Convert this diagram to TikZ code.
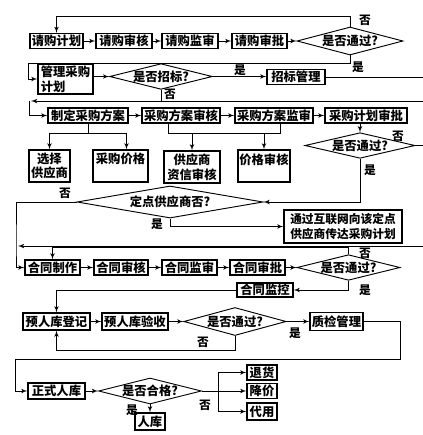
\documentclass[tikz,border=0pt]{standalone}
\usepackage{fontspec}
\newfontfamily\cjk{Noto Sans CJK SC}
\usetikzlibrary{shapes,arrows,calc}
\newcommand\pu{0.03cm}
\tikzstyle{block} = [rectangle, draw, line width=1.1pt, inner sep=0.5pt,
    minimum height=15*\pu, font=\cjk\bfseries\fontsize{10.5}{12.5}\selectfont]
\tikzstyle{decision} = [diamond, draw, line width=0.8pt, inner sep=0pt, aspect=4,
    font=\cjk\bfseries\fontsize{10.5}{12}\selectfont]
\tikzstyle{tag} = [inner sep=0pt, font=\cjk\bfseries\fontsize{10}{12}\selectfont]
\tikzstyle{line} = [draw, line width=0.8pt, -latex']
\tikzstyle{wire} = [draw, line width=0.8pt]

\begin{document}
\begin{tikzpicture}[x=\pu, y=-\pu]
\useasboundingbox (0,0) rectangle (423,435);
%% Place nodes
\node [block, minimum width=53*\pu] (plan) at (56.5,41) {请购计划};
\node [block, minimum width=56*\pu] (check) at (124,41) {请购审核};
\node [block, minimum width=56*\pu] (audit) at (190,41) {请购监审};
\node [block, minimum width=55*\pu] (approve) at (259.5,41) {请购审批};
\node [decision, minimum width=106*\pu, minimum height=28*\pu] (pass1) at (350,41) {是否通过?};
\node [block, minimum width=55*\pu, minimum height=30*\pu, align=left] (mplan) at (65.5,79) {管理采购\\计划};
\node [decision, minimum width=102*\pu, minimum height=25*\pu] (tender) at (161,76.5) {是否招标?};
\node [block, minimum width=58*\pu] (tmgr) at (296,77) {招标管理};

\node [block, minimum width=80*\pu] (scheme) at (88,115.5) {制定采购方案};
\node [block, minimum width=78*\pu] (scheck) at (181,115.5) {采购方案审核};
\node [block, minimum width=78*\pu] (saudit) at (274,115.5) {采购方案监审};
\node [block, minimum width=82*\pu] (sapprove) at (366,115.5) {采购计划审批};
\node [block, minimum width=41*\pu, minimum height=32*\pu, align=center] (select) at (49.5,166) {选择\\供应商};
\node [block, minimum width=55*\pu, minimum height=32*\pu, align=center] (price) at (120.5,166) {采购价格\\~};
\node [block, minimum width=56*\pu, minimum height=32*\pu, align=center] (credit) at (192,167) {供应商\\资信审核};
\node [block, minimum width=52*\pu, minimum height=32*\pu, align=center] (pcheck) at (264,166) {价格审核\\~};
\node [decision, minimum width=110*\pu, minimum height=25*\pu] (pass2) at (360,145.5) {是否通过?};
\node [decision, minimum width=186*\pu, minimum height=26*\pu] (fixed) at (170,202) {定点供应商否?};
\node [block, minimum width=118*\pu, minimum height=33*\pu, align=center,
    font=\cjk\bfseries\fontsize{10}{13}\selectfont] (notify) at (343,226.5) {通过互联网向该定点\\供应商传达采购计划};

\node [block, minimum width=55*\pu] (make) at (52.5,267.5) {合同制作};
\node [block, minimum width=54*\pu] (ccheck) at (121,267.5) {合同审核};
\node [block, minimum width=55*\pu] (caudit) at (189.5,267.5) {合同监审};
\node [block, minimum width=55*\pu] (capprove) at (257.5,267.5) {合同审批};
\node [decision, minimum width=103*\pu, minimum height=23*\pu] (pass3) at (348.5,267.5) {是否通过?};
\node [block, minimum width=56*\pu, minimum height=14*\pu] (monitor) at (265,290) {合同监控};

\node [block, minimum width=67*\pu, minimum height=17*\pu] (pre) at (56.5,321.5) {预人库登记};
\node [block, minimum width=66*\pu, minimum height=17*\pu] (precheck) at (135,321.5) {预人库验收};
\node [decision, minimum width=100*\pu, minimum height=28*\pu] (pass4) at (235,321.5) {是否通过?};
\node [block, minimum width=53*\pu, minimum height=18*\pu] (qc) at (336.5,321.5) {质检管理};

\node [block, minimum width=57*\pu, minimum height=16*\pu] (store) at (56.5,391) {正式人库};
\node [decision, minimum width=100*\pu, minimum height=26*\pu] (qualified) at (150,391) {是否合格?};
\node [block, minimum width=30*\pu] (ret) at (262,372.5) {退货};
\node [block, minimum width=30*\pu] (cut) at (262,391) {降价};
\node [block, minimum width=30*\pu, minimum height=17*\pu] (sub) at (262,411.5) {代用};
\node [block, minimum width=30*\pu, minimum height=17*\pu] (inbox) at (150,421.5) {人库};

%% Free ends at the cut right edge
\coordinate (tout) at (423,77);
\coordinate (back1) at (423,101);
\coordinate (turn1) at (29,101);
\coordinate (back2) at (423,246);
\coordinate (turn2) at (16,246);

%% Yes / no labels
\node [tag] (no1) at (365,20) {否};
\node [tag] (yes1) at (358,67) {是};
\node [tag] (yes2) at (240,70) {是};
\node [tag] (no2) at (170,94) {否};
\node [tag] (no3) at (398,136) {否};
\node [tag] (yes3) at (370,170) {是};
\node [tag] (no4) at (65,193) {否};
\node [tag] (yes4) at (157,224) {是};
\node [tag] (no5) at (365,253) {否};
\node [tag] (yes5) at (365,290) {是};
\node [tag] (yes6) at (295,333) {是};
\node [tag] (no6) at (203,342) {否};
\node [tag] (no7) at (205,405) {否};
\node [tag] (yes7) at (132,410) {是};

%% Draw lines between boxes
\path [line] (plan) -- (check);
\path [line] (check) -- (audit);
\path [line] (audit) -- (approve);
\path [line] (approve) -- (pass1);
\path [line] (pass1.north) -- ++(0,-10) -| (plan.north);
\path [line] (pass1.south) -- ++(0,8) -| ([xshift=-9*\pu]mplan.west) -- (mplan.west);
\path [line] (mplan.east |- tender.west) -- (tender.west);
\path [line] (tender.east) -- (tmgr.west |- tender.east);
\path [wire] (tmgr.east) -- (tmgr.east -| tout);
\path [wire] (tender.south) -- (tender.south |- back1);
\path [line] (back1) -- ([xshift=2*\pu]turn1);
\path [line] (turn1) |- (scheme.west);

\path [line] (scheme) -- (scheck);
\path [line] (scheck) -- (saudit);
\path [line] (saudit) -- (sapprove);
\coordinate (bar1) at ($(scheme.south)+(0,10)$);
\path [wire] (scheme.south) -- (bar1);
\path [line] (bar1) -| (select.north);
\path [line] (bar1) -| ([xshift=6*\pu]price.north);
\coordinate (bar2) at ($(scheck.south)+(-13,10)$);
\path [wire] ([xshift=-13*\pu]scheck.south) -- (bar2) -| ([xshift=6*\pu]saudit.south);
\path [line] (credit.north |- bar2) -- (credit.north);
\path [line] (pcheck.north |- bar2) -- (pcheck.north);
\path [line] (sapprove.south -| pass2.north) -- (pass2.north);
\path [wire] (pass2.east) -- (pass2.east -| tout);
\path [line] (pass2.south) |- (fixed.east);
\path [line] (fixed.south) |- (notify.west);
\path [line] (fixed.west) -| (turn2) |- (make.west);
\path [line] (back2) -- ([xshift=2*\pu]turn2);

\path [line] (make) -- (ccheck);
\path [line] (ccheck) -- (caudit);
\path [line] (caudit) -- (capprove);
\path [line] (capprove) -- (pass3);
\path [line] (pass3.north) -- ++(0,-7) -| (make.north);
\path [line] (pass3.south) |- (monitor.east);
\path [line] (monitor.west) -| (pre.north);

\path [line] (pre) -- (precheck);
\path [line] (precheck) -- (pass4);
\path [line] (pass4) -- (qc);
\path [line] (pass4.south) -- ++(0,14) -| (pre.south);
\path [line] (qc.east) -- ++(37,0) -- ++(0,37.5) -| ([xshift=-12*\pu]store.west) -- (store.west);

\path [line] (store) -- (qualified);
\coordinate (split) at ($(qualified.east)+(17,0)$);
\path [wire] (qualified.east) -- (split);
\path [line] (split) |- (ret.west);
\path [line] (split) -- (cut.west);
\path [line] (split) |- (sub.west);
\path [line] (qualified.south) -- (inbox.north);
\end{tikzpicture}
\end{document}
